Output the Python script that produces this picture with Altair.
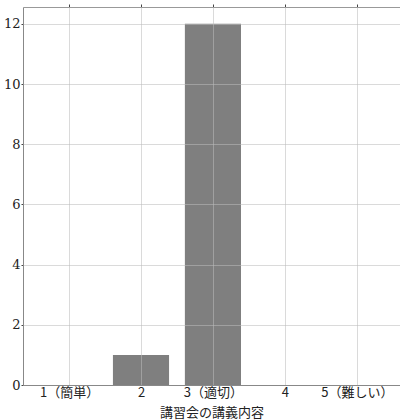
import altair as alt
import pandas as pd

categories = [1, 2, 3, 4, 5]
labels = ["1（簡単）", "2", "3（適切）", "4", "5（難しい）"]
counts = [0, 1, 12, 0, 0]

df = pd.DataFrame({"v": categories, "count": counts})
df["lo"] = df["v"] - 0.39
df["hi"] = df["v"] + 0.39
df["base"] = 0

label_expr = "{" + ",".join(f"'{c}':'{l}'" for c, l in zip(categories, labels)) + "}[datum.value]"

xscale = alt.Scale(domain=[0.36, 5.6], nice=False, zero=False)
yscale = alt.Scale(domain=[0, 12.56], nice=False)

bars = alt.Chart(df).mark_bar(color="#7f7f7f").encode(
    x=alt.X("lo:Q", scale=xscale, title="講習会の講義内容",
            axis=alt.Axis(values=categories, labelExpr=label_expr, grid=True,
                          gridColor="#bbbbbb", gridOpacity=0.55, zindex=1,
                          domainColor="#888888", ticks=False, labelPadding=1,
                          labelFont="Noto Sans CJK JP", labelFontSize=13, labelColor="#222222",
                          titleFont="Noto Sans CJK JP", titleFontSize=13, titleFontWeight="normal",
                          titleColor="#222222", titleBaseline="bottom", titleY=34)),
    x2="hi",
    y=alt.Y("count:Q", scale=yscale, title=None,
            axis=alt.Axis(values=[0, 2, 4, 6, 8, 10, 12], grid=True, gridColor="#bbbbbb",
                          gridOpacity=0.55, zindex=1, domainColor="#888888",
                          tickColor="#444444", tickSize=2, labelPadding=1,
                          labelFont="DejaVu Serif", labelFontSize=13, labelColor="#222222")),
    y2="base",
)

top = alt.Chart(df).mark_point(opacity=0).encode(
    x=alt.X("v:Q", scale=xscale,
            axis=alt.Axis(orient="top", values=categories, labels=False, title=None,
                          grid=False, domainColor="#999999", tickColor="#444444",
                          tickSize=3, ticks=True)),
    y=alt.value(0),
)

chart = alt.layer(bars, top).resolve_axis(x="independent").properties(
    width=377, height=378,
    autosize=alt.AutoSizeParams(type="none"),
    padding={"left": 23, "top": 7, "right": 0, "bottom": 35},
).configure_view(stroke=None)

chart.save("out.html", embed_options={"renderer": "svg", "actions": False})
